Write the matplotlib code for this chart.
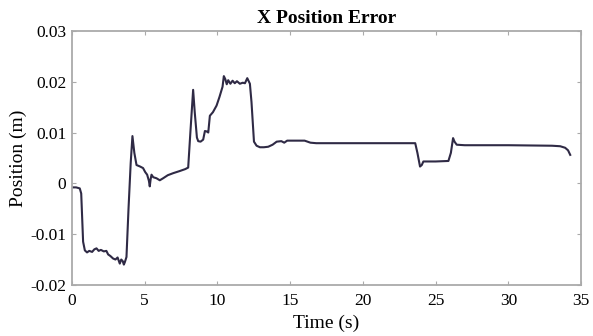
import matplotlib
matplotlib.use('Agg')
import matplotlib.pyplot as plt

# time (s) and x position error (m)
time = [0, 0.3, 0.55, 0.65, 0.78, 0.9, 1.05, 1.2, 1.4, 1.55, 1.7, 1.85, 2.0, 2.2, 2.38,
        2.5, 2.65, 2.84, 3.0, 3.15, 3.3, 3.4, 3.5, 3.58, 3.65, 3.76, 3.9, 4.05, 4.17, 4.3,
        4.45, 4.7, 4.9, 5.05, 5.18, 5.3, 5.36, 5.42, 5.48, 5.6, 5.82, 6.05, 6.28, 6.6, 6.97,
        7.4, 7.8, 8.0, 8.15, 8.34, 8.45, 8.6, 8.69, 8.85, 9.03, 9.15, 9.28, 9.38, 9.49, 9.7,
        9.95, 10.15, 10.36, 10.45, 10.55, 10.65, 10.75, 10.9, 11.05, 11.2, 11.35, 11.55, 11.75, 11.9, 12.06,
        12.24, 12.35, 12.52, 12.7, 12.93, 13.2, 13.5, 13.8, 14.08, 14.4, 14.6, 14.8, 15.5, 16.0, 16.4,
        16.8, 20.0, 23.6, 23.75, 23.93, 24.05, 24.16, 25.0, 25.88, 26.05, 26.2, 26.3, 26.45, 27.0, 30.0,
        33.0, 33.56, 33.9, 34.1, 34.25]
pos_err = [-0.0008, -0.0008, -0.0010, -0.0020, -0.0115, -0.0132, -0.0136, -0.0133, -0.0135, -0.0130, -0.0128, -0.0133, -0.0131, -0.0134, -0.0133,
           -0.0140, -0.0143, -0.0148, -0.0150, -0.0146, -0.0158, -0.0150, -0.0153, -0.0160, -0.0155, -0.0145, -0.0050, 0.0040, 0.0093, 0.0060,
           0.0036, 0.0033, 0.0030, 0.0022, 0.0017, 0.0005, -0.0006, 0.0008, 0.0017, 0.0012, 0.0010, 0.0006, 0.0010, 0.0016, 0.0020,
           0.0024, 0.0028, 0.0031, 0.0100, 0.0184, 0.0140, 0.0090, 0.0083, 0.0082, 0.0086, 0.0103, 0.0102, 0.0100, 0.0133, 0.0140,
           0.0153, 0.0170, 0.0190, 0.0211, 0.0205, 0.0195, 0.0203, 0.0196, 0.0202, 0.0197, 0.0201, 0.0196, 0.0198, 0.0197, 0.0207,
           0.0196, 0.0160, 0.0082, 0.0074, 0.0071, 0.0071, 0.0072, 0.0076, 0.0082, 0.0083, 0.0080, 0.0084, 0.0084, 0.0084, 0.0080,
           0.0079, 0.0079, 0.0079, 0.0060, 0.0033, 0.0036, 0.0043, 0.0043, 0.0044, 0.0060, 0.0089, 0.0082, 0.0076, 0.0075, 0.0075,
           0.0074, 0.0073, 0.0070, 0.0065, 0.0056]

xticks = [0, 5, 10, 15, 20, 25, 30, 35]
yticks = [-0.02, -0.01, 0, 0.01, 0.02, 0.03]
ytick_labels = ['-0.02', '-0.01', '0', '0.01', '0.02', '0.03']

plt.rcParams['font.family'] = ['Liberation Serif', 'DejaVu Serif']

fig = plt.figure(figsize=(5.93, 3.36), dpi=100)
ax = fig.add_axes([0.121, 0.152, 0.859, 0.756])
ax.plot(time, pos_err, color='#2f2a45', lw=1.5)

ax.set_xlim(0, 35)
ax.set_ylim(-0.02, 0.03)
ax.set_xticks(xticks)
ax.set_xticklabels([str(v) for v in xticks])
ax.set_yticks(yticks)
ax.set_yticklabels(ytick_labels)
ax.tick_params(direction='in', top=True, right=True, length=3, labelsize=12.5, color='#aaaaaa')
ax.tick_params(axis='x', pad=6)
ax.tick_params(axis='y', pad=4)
for s in ax.spines.values():
    s.set_color('#aaaaaa')
    s.set_linewidth(1.3)

ax.set_xlabel('Time (s)', fontsize=14, labelpad=4)
ax.set_ylabel('Position (m)', fontsize=14, labelpad=2)
ax.set_title('X Position Error', fontsize=14, fontweight='bold', pad=6)

fig.savefig('out.png', dpi=100)
